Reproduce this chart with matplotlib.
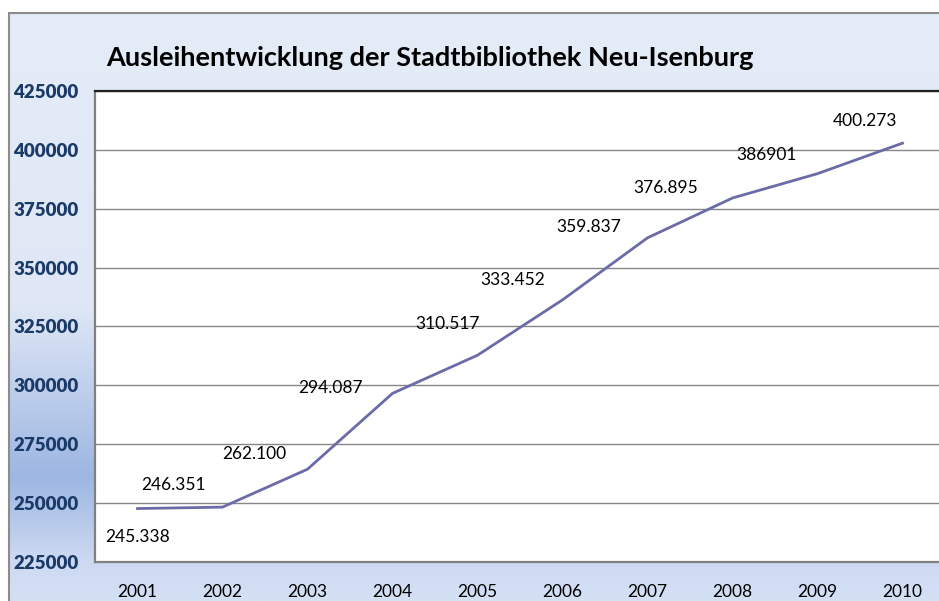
import numpy as np
import matplotlib.pyplot as plt
from matplotlib.colors import LinearSegmentedColormap
from matplotlib.patches import Rectangle

# Data
years = ["2001", "2002", "2003", "2004", "2005", "2006", "2007", "2008", "2009", "2010"]
loans = [247700, 248300, 264400, 296600, 312800, 336300, 362650, 379560, 389900, 402850]
value_labels = ["245.338", "246.351", "262.100", "294.087", "310.517",
                "333.452", "359.837", "376.895", "386901", "400.273"]
y_ticks = [225000, 250000, 275000, 300000, 325000, 350000, 375000, 400000, 425000]

# label offsets from each point, in pixels (x right, y up)
label_offsets = [(0, -28), (-49, 22), (-53, 15), (-62, 5), (-30, 31),
                 (-50, 20), (-59, 11), (-67, 10), (-51, 19), (-37, 22)]

W, H = 939, 601
fig = plt.figure(figsize=(W / 100, H / 100), dpi=100)
fig.patch.set_facecolor("white")
plt.rcParams["font.family"] = ["Lato", "DejaVu Sans"]

# Background frame with vertical gradient
bg = fig.add_axes([9 / W, 0, 1, 1 - 13 / H])
bg.set_axis_off()
grad = LinearSegmentedColormap.from_list("bg", [
    (0.0, "#e4ecf8"), (0.5, "#dfe7f6"), (0.79, "#9db6e2"),
    (0.93, "#ccd9f1"), (1.0, "#d4e0f4")])
bg.imshow(np.linspace(0, 1, 256).reshape(-1, 1), aspect="auto", cmap=grad,
          extent=[0, 1, 0, 1], origin="upper")
bg.set_xlim(0, 1)
bg.set_ylim(0, 1)
fig.patches.append(Rectangle((9 / W, -0.1), 1, 1 - 13 / H + 0.1,
                             transform=fig.transFigure, fill=False,
                             edgecolor="#8c8c8c", lw=1.5))

ax = fig.add_axes([95 / W, 1 - 562 / H, 850 / W, 471 / H])
ax.set_facecolor("white")
x = np.arange(len(years))
ax.plot(x, loans, color="#6b6ba8", lw=2.0, solid_joinstyle="miter")

for xi, yi, lab, (dx, dy) in zip(x, loans, value_labels, label_offsets):
    ax.annotate(lab, (xi, yi), xytext=(dx, dy), textcoords="offset pixels",
                ha="center", va="center", fontsize=12.5, color="black")

ax.set_xlim(-0.5, len(years) - 0.5)
ax.set_ylim(225000, 425000)
ax.set_yticks(y_ticks)
ax.set_yticklabels([str(t) for t in y_ticks], fontsize=13.5, fontweight="heavy",
                   color="#1a3a68", ha="left")
ax.yaxis.set_tick_params(length=0, pad=59)
ax.set_xticks(x)
ax.set_xticklabels(years, fontsize=12.5, color="black")
ax.xaxis.set_tick_params(length=0, pad=16)
ax.grid(axis="y", color="#868686", lw=1)
ax.set_axisbelow(True)

for s in ["left", "bottom"]:
    ax.spines[s].set_color("#808080")
    ax.spines[s].set_linewidth(1.6)
ax.spines["top"].set_color("#222222")
ax.spines["top"].set_linewidth(1.6)
ax.spines["right"].set_visible(False)

fig.text(430 / W, 1 - 58 / H, "Ausleihentwicklung der Stadtbibliothek Neu-Isenburg",
         ha="center", va="center", fontsize=19.5, fontweight="bold", color="black")

fig.savefig("out.png", dpi=100)
